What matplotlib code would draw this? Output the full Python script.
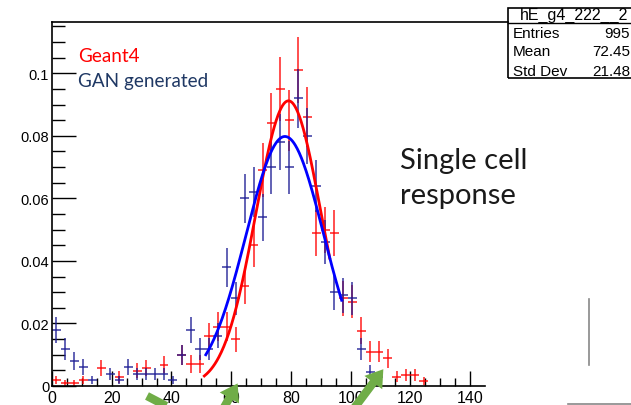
import numpy as np
import matplotlib
matplotlib.use("Agg")
import matplotlib.pyplot as plt
from matplotlib.lines import Line2D
from matplotlib.patches import Rectangle, FancyArrowPatch

W, H = 631, 406

# bin centres (bin width 3)
centers = [1.5, 4.5, 7.5, 10.5, 13.5, 16.5, 19.5, 22.5, 25.5, 28.5, 31.5, 34.5,
           37.5, 40.5, 43.5, 46.5, 49.5, 52.5, 55.5, 58.5, 61.5, 64.5, 67.5, 70.5,
           73.5, 76.5, 79.5, 82.5, 85.5, 88.5, 91.5, 94.5, 97.5, 100.5, 103.5,
           106.5, 109.5, 112.5, 115.5, 118.5, 121.5, 124.5]
nan = np.nan
geant4 = [0.0019, 0.001, 0.001, 0.0019, nan, 0.0058, nan, 0.0029, nan, 0.0049, 0.0057, nan,
          0.0068, nan, 0.0099, 0.007, 0.007, 0.016, 0.019, 0.019, 0.015, 0.032, 0.045, 0.069,
          0.084, 0.095, 0.085, 0.101, 0.086, 0.049, 0.050, 0.049, 0.028, 0.027, 0.0177,
          0.011, 0.011, 0.0088, 0.003, 0.0035, 0.0035, 0.0017]
geant4_err = [0.0013, 0.001, 0.001, 0.0013, nan, 0.0025, nan, 0.0018, nan, 0.0023, 0.0025, nan,
              0.0027, nan, 0.0033, 0.0028, 0.0028, 0.0042, 0.0046, 0.0046, 0.004, 0.0059, 0.007, 0.0087,
              0.0096, 0.0102, 0.0097, 0.0105, 0.0097, 0.0073, 0.0074, 0.0073, 0.0055, 0.0054, 0.0043,
              0.0034, 0.0034, 0.0031, 0.0018, 0.002, 0.002, 0.0013]
gan = [0.018, 0.0118, 0.008, 0.006, 0.0019, nan, 0.0038, 0.0019, 0.006, 0.0038, 0.0038, 0.0038,
       0.0038, 0.0019, 0.0099, 0.018, 0.0118, 0.0118, 0.016, 0.038, 0.028, 0.060, 0.062, 0.054,
       0.070, 0.078, 0.070, 0.092, 0.080, 0.064, 0.046, 0.030, 0.029, 0.028, 0.0118,
       0.0046, 0.003, nan, nan, nan, nan, nan]
gan_err = [0.0042, 0.0034, 0.0028, 0.0025, 0.0014, nan, 0.002, 0.0014, 0.0025, 0.002, 0.002, 0.002,
           0.002, 0.0014, 0.0032, 0.0042, 0.0034, 0.0034, 0.004, 0.0062, 0.0053, 0.0078, 0.008, 0.0075,
           0.0085, 0.009, 0.0085, 0.0095, 0.009, 0.0082, 0.007, 0.0056, 0.0055, 0.0054, 0.0034,
           0.0022, 0.0018, nan, nan, nan, nan, nan]

# gaussian fit parameters: amplitude, mean, sigma, range
fit_g4 = (0.0912, 79.2, 10.9, 51.0, 93.0)
fit_gan = (0.0798, 78.0, 13.0, 51.5, 97.0)

stats_title = "hE_g4_222__2"
stats_rows = [("Entries", "995"), ("Mean", "72.45"), ("Std Dev", "21.48")]


def fx(px):
    return px / W


def fy(py):
    return 1 - py / H


fig = plt.figure(figsize=(W / 100, H / 100), dpi=100)
ax = fig.add_axes([fx(52), fy(387), fx(485) - fx(52), fy(22.7) - fy(387)])
ax.set_xlim(0, 145)
ax.set_ylim(0, 0.1165)

ax.errorbar(centers, geant4, xerr=1.5, yerr=geant4_err, fmt='none',
            ecolor='#ff0000', elinewidth=1.3, alpha=0.75, zorder=2)
ax.errorbar(centers, gan, xerr=1.5, yerr=gan_err, fmt='none',
            ecolor='#1c1c94', elinewidth=1.3, alpha=0.75, zorder=2)

for (a, m, s, lo, hi), c in [(fit_g4, '#ff0000'), (fit_gan, '#0000ff')]:
    xs = np.linspace(lo, hi, 200)
    ax.plot(xs, a * np.exp(-0.5 * ((xs - m) / s) ** 2), color=c, lw=2, zorder=3)

for s in ['top', 'right']:
    ax.spines[s].set_visible(False)
for s in ['left', 'bottom']:
    ax.spines[s].set_linewidth(1.2)

ax.set_xticks(np.arange(0, 141, 20))
ax.set_xticks(np.arange(0, 145, 5), minor=True)
ax.set_yticks([0, 0.02, 0.04, 0.06, 0.08, 0.1])
ax.set_yticklabels(['0', '0.02', '0.04', '0.06', '0.08', '0.1'])
ax.set_yticks(np.arange(0, 0.116, 0.005), minor=True)
ax.tick_params(axis='x', which='major', direction='in', length=11, width=1,
               labelsize=11.5, pad=3)
ax.tick_params(axis='x', which='minor', direction='in', length=6, width=1)
ax.tick_params(axis='y', which='major', direction='in', length=17, width=1,
               labelsize=10.5, pad=2)
ax.tick_params(axis='y', which='minor', direction='in', length=9, width=1)
for lab in ax.get_xticklabels() + ax.get_yticklabels():
    lab.set_family('Liberation Sans')

# top frame line running to the stats box
fig.add_artist(Line2D([fx(52), fx(508)], [fy(22.7), fy(22.7)], color='black', lw=1.2))

# stats box
fig.add_artist(Rectangle((fx(508), fy(79)), fx(140), fy(9) - fy(79), fill=False,
                         ec='black', lw=1.2, transform=fig.transFigure))
fig.add_artist(Line2D([fx(508), fx(640)], [fy(23.5), fy(23.5)], color='black', lw=1))
fig.text(fx(520), fy(15.5), stats_title, family='Liberation Sans', fontsize=11.5,
         va='center', ha='left')
for i, (k, v) in enumerate(stats_rows):
    y = fy(33.5 + 19 * i)
    fig.text(fx(513), y, k, family='Liberation Sans', fontsize=11, va='center')
    fig.text(fx(630), y, v, family='Liberation Sans', fontsize=11, va='center', ha='right')

# legend text
fig.text(fx(78), fy(57), "Geant4", color='#ff0000', family='Lato', fontsize=13.6, va='center')
fig.text(fx(78), fy(82), "GAN generated", color='#1f3864', family='Lato', fontsize=13.6,
         va='center')

fig.text(fx(400), fy(161), "Single cell", color='#1a1a1a', family='Lato', fontsize=21,
         va='center')
fig.text(fx(400), fy(196), "response", color='#1a1a1a', family='Lato', fontsize=21,
         va='center')

# slide leftovers: grey lines and green arrows
fig.add_artist(Line2D([fx(589), fx(589)], [fy(300), fy(366)], color='#888888', lw=1.2))
fig.add_artist(Line2D([fx(568), fx(631)], [fy(405), fy(405)], color='#888888', lw=1.2))
green = '#70ad47'
fig.add_artist(Line2D([fx(147), fx(172)], [fy(397), fy(410)], color=green, lw=6,
                      solid_capstyle='butt'))
for (x0, y0, x1, y1) in [(222, 412, 239, 382), (352, 412, 385, 368)]:
    fig.add_artist(FancyArrowPatch((fx(x0), fy(y0)), (fx(x1), fy(y1)),
                                   transform=fig.transFigure,
                                   arrowstyle='simple,head_width=1.6,head_length=1.2,tail_width=0.6',
                                   mutation_scale=10, color=green, lw=0))

fig.savefig('out.png', dpi=100)
